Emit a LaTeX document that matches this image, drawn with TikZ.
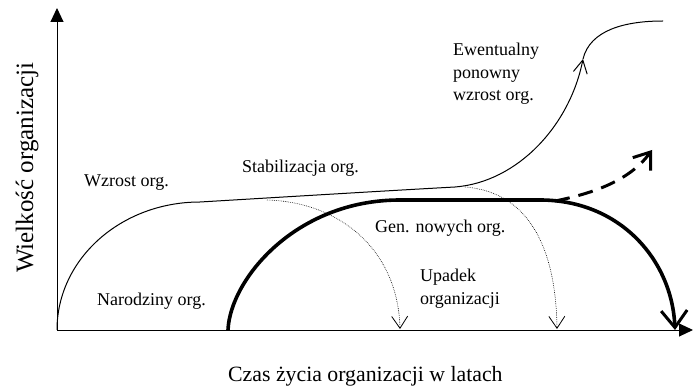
\documentclass[tikz,border=0pt]{standalone}
\usepackage{fontspec}
\setmainfont{Liberation Serif}
\usetikzlibrary{arrows.meta}
\begin{document}
\begin{tikzpicture}[x=1pt,y=-1pt,
  lbl/.style={inner sep=0pt, anchor=base west, font=\fontsize{18}{22.5}\selectfont},
  mlbl/.style={inner sep=0pt, anchor=north west, align=left, font=\fontsize{18}{22.5}\selectfont},
  axislbl/.style={inner sep=0pt, anchor=base west, font=\fontsize{21.8}{26}\selectfont},
  yaxislbl/.style={inner sep=0pt, anchor=base west, rotate=90, font=\fontsize{25}{29}\selectfont},
  axisline/.style={line width=1pt, -{Triangle[length=14pt,width=13pt]}},
  thinline/.style={line width=1pt},
  thickline/.style={line width=3.6pt},
  dotline/.style={line width=0.6pt, dash pattern=on 0.7pt off 1.1pt,
     -{Straight Barb[length=12pt,width=16pt,line width=0.8pt]}}
]
\useasboundingbox (0,0) rectangle (693,390);

% key points
\coordinate (O) at (57,330);
\coordinate (Ytop) at (57,8);
\coordinate (Xend) at (693,330);

% axes
\draw[axisline] (O) -- (Ytop);
\draw[axisline] (O) -- (Xend);

% thin growth curve
\coordinate (g0) at (57,330);
\coordinate (g1) at (200,202);
\coordinate (g2) at (455,187);
\coordinate (g3) at (583,59);
\coordinate (g4) at (663,21);
\draw[thinline, -{Straight Barb[length=13pt,width=14pt]}]
  (g0) .. controls (57,259) and (121,202) .. (g1)
  .. controls (300,196) and (400,190) .. (g2)
  .. controls (518,182) and (570,125) .. (g3);
\draw[thinline] (g3) .. controls (590,30) and (625,21) .. (g4);

% thick curve (new organisations)
\coordinate (t0) at (228,330);
\coordinate (t1) at (400,200);
\coordinate (t2) at (540,200);
\coordinate (t3) at (675,330);
\draw[thickline, -{Straight Barb[length=17pt,width=26pt,line width=3pt]}]
  (t0) .. controls (230,280) and (295,200) .. (t1) -- (t2)
  .. controls (620,200) and (672,260) .. (t3);

% dashed thick arrow
\coordinate (d0) at (555,201);
\coordinate (d1) at (652,150);
\draw[line width=3pt, dash pattern=on 15pt off 9pt,
      -{Straight Barb[length=15pt,width=22pt,line width=3pt]}]
  (d0) .. controls (595,193) and (630,180) .. (d1);

% dotted arcs
\coordinate (a0) at (267,200);
\coordinate (a1) at (400,329);
\coordinate (b0) at (465,187);
\coordinate (b1) at (557,329);
\draw[dotline] (a0) .. controls (340,202) and (398,250) .. (a1);
\draw[dotline] (b0) .. controls (530,192) and (556,250) .. (b1);

% labels
\node[lbl] (wzrost) at (84,187) {Wzrost org.};
\node[lbl] (stab) at (242,173) {Stabilizacja org.};
\node[mlbl] (ewent) at (453,43) {Ewentualny\\ponowny\\wzrost org.};
\node[lbl] (gen) at (375,232) {Gen. nowych org.};
\node[mlbl] (upadek) at (420,269) {Upadek\\organizacji};
\node[lbl] (narodz) at (97,305) {Narodziny org.};
\node[axislbl] (xl) at (228,381) {Czas życia organizacji w latach};
\node[yaxislbl] (yl) at (33,273) {Wielkość organizacji};
\end{tikzpicture}
\end{document}
